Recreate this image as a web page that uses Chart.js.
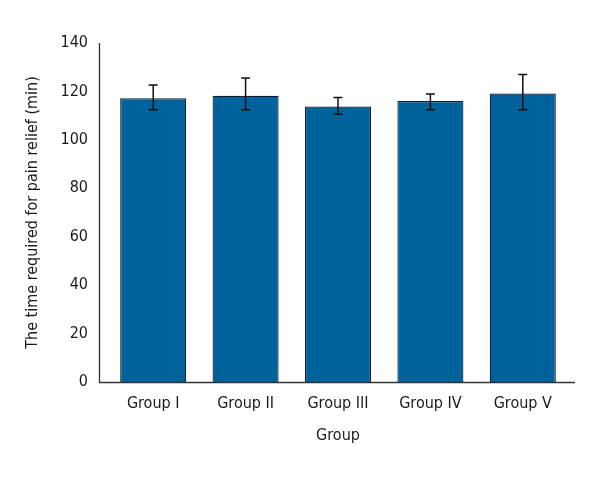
<!DOCTYPE html>
<html>
<head>
<meta charset="utf-8">
<script src="https://cdn.jsdelivr.net/npm/chart.js@4"></script>
<style>
  html, body { margin: 0; padding: 0; background: #fff; }
  #wrap { width: 600px; height: 480px; }
</style>
</head>
<body>
<div id="wrap"><canvas id="painChart" width="600" height="480"></canvas></div>
<script>
// data
const groups = ["Group I", "Group II", "Group III", "Group IV", "Group V"];
const meanTime = [117.2, 118.2, 113.8, 116.0, 119.1];
const errLow = [112.4, 112.4, 110.6, 112.4, 112.4];
const errHigh = [122.7, 125.5, 117.5, 118.9, 127.0];
const yTicks = [0, 20, 40, 60, 80, 100, 120, 140];

const font = "'Liberation Sans Narrow', 'DejaVu Sans Condensed', sans-serif";
Chart.defaults.font.family = font;
Chart.defaults.font.size = 16;
Chart.defaults.color = "#1a1a1a";

// axis lines sit a little outside the category area, like the original
const axisLines = {
  id: "axisLines",
  afterDraw(chart) {
    const a = chart.chartArea, c = chart.ctx;
    c.save();
    c.lineWidth = 1.3;
    c.strokeStyle = "#333";
    c.beginPath();
    c.moveTo(a.left - 7.5, a.top);
    c.lineTo(a.left - 7.5, a.bottom + 0.5);
    c.lineTo(a.right + 6, a.bottom + 0.5);
    c.stroke();
    c.restore();
  }
};

// whiskers, drawn through the scales
const errorBars = {
  id: "errorBars",
  afterDatasetsDraw(chart) {
    const ctx = chart.ctx;
    const x = chart.scales.x, y = chart.scales.y;
    ctx.save();
    ctx.strokeStyle = "#111";
    ctx.lineWidth = 1.5;
    groups.forEach((g, i) => {
      const px = x.getPixelForValue(i);
      const lo = y.getPixelForValue(errLow[i]);
      const hi = y.getPixelForValue(errHigh[i]);
      ctx.beginPath();
      ctx.moveTo(px, lo); ctx.lineTo(px, hi);
      ctx.moveTo(px - 4.5, lo); ctx.lineTo(px + 4.5, lo);
      ctx.moveTo(px - 4.5, hi); ctx.lineTo(px + 4.5, hi);
      ctx.stroke();
    });
    ctx.restore();
  }
};

const ctx = document.getElementById("painChart");
window.myBar = new Chart(ctx, {
  type: "bar",
  data: {
    labels: groups,
    datasets: [{
      data: meanTime,
      backgroundColor: "#00629b",
      borderColor: "#0b1e30",
      borderWidth: 1.2,
      categoryPercentage: 1,
      barPercentage: 0.715
    }]
  },
  options: {
    responsive: false,
    animation: false,
    layout: { padding: { top: 43, right: 31, bottom: 0, left: 0 } },
    plugins: { legend: { display: false }, tooltip: { enabled: false } },
    scales: {
      x: {
        grid: { display: false, drawTicks: false },
        border: { display: false },
        ticks: { padding: 12 },
        title: { display: true, text: "Group", padding: { top: 0, bottom: 35 } },
        afterFit(s) { s.height = 98; }
      },
      y: {
        min: 0,
        max: 140,
        afterBuildTicks(s) { s.ticks = yTicks.map(v => ({ value: v })); },
        grid: { display: false, drawTicks: false },
        border: { display: false },
        ticks: { padding: 19 },
        title: {
          display: true,
          text: "The time required for pain relief (min)",
          padding: { top: 23, bottom: 0 }
        },
        afterFit(s) { s.width = 107; }
      }
    }
  },
  plugins: [errorBars, axisLines]
});
</script>
</body>
</html>
